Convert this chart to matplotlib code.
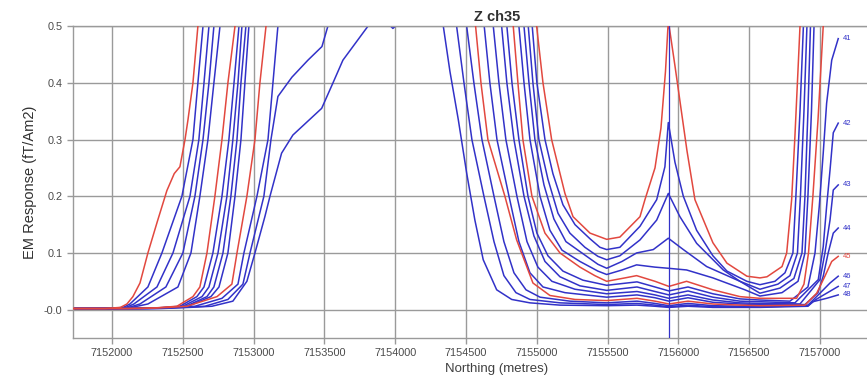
import matplotlib.pyplot as plt

plt.rcParams['font.family'] = ['Liberation Sans', 'DejaVu Sans']

# channel profiles: (northing, response)
ch35 = [(7151725, 0.002), (7151950, 0.002), (7152060, 0.004), (7152106, 0.01), (7152148, 0.023), (7152198, 0.047),
        (7152254, 0.10), (7152320, 0.155), (7152388, 0.21), (7152440, 0.24), (7152480, 0.252), (7152516, 0.30),
        (7152537, 0.335), (7152572, 0.40), (7152607, 0.50), (7152640, 0.65),
        (7154980, 0.65), (7154999, 0.50), (7155044, 0.40), (7155105, 0.30), (7155199, 0.205), (7155256, 0.164),
        (7155376, 0.135), (7155494, 0.124), (7155587, 0.128), (7155729, 0.164), (7155764, 0.194), (7155835, 0.25),
        (7155877, 0.32), (7155909, 0.42), (7155929, 0.51), (7155976, 0.43), (7156061, 0.28), (7156117, 0.194),
        (7156244, 0.118), (7156343, 0.082), (7156484, 0.059), (7156576, 0.056), (7156626, 0.058), (7156732, 0.076),
        (7156765, 0.10), (7156800, 0.194), (7156823, 0.305), (7156845, 0.423), (7156859, 0.50), (7156880, 0.65)]
ch36 = [(7151725, 0.002), (7151980, 0.002), (7152080, 0.004), (7152127, 0.01), (7152254, 0.04), (7152353, 0.10),
        (7152494, 0.20), (7152572, 0.30), (7152607, 0.40), (7152643, 0.50), (7152680, 0.65),
        (7154950, 0.65), (7154968, 0.50), (7155001, 0.40), (7155058, 0.30), (7155114, 0.24), (7155185, 0.185),
        (7155270, 0.15), (7155376, 0.125), (7155446, 0.11), (7155494, 0.106), (7155587, 0.11), (7155729, 0.147),
        (7155847, 0.194), (7155905, 0.252), (7155929, 0.33), (7155976, 0.26), (7156035, 0.20), (7156129, 0.14),
        (7156244, 0.095), (7156343, 0.068), (7156484, 0.05), (7156576, 0.044), (7156682, 0.05), (7156753, 0.065),
        (7156809, 0.10), (7156830, 0.20), (7156859, 0.35), (7156883, 0.50), (7156900, 0.65)]
ch37 = [(7151725, 0.002), (7152000, 0.002), (7152100, 0.004), (7152155, 0.01), (7152318, 0.04), (7152431, 0.10),
        (7152551, 0.20), (7152614, 0.30), (7152650, 0.40), (7152685, 0.50), (7152720, 0.65),
        (7154920, 0.65), (7154940, 0.50), (7154973, 0.40), (7155015, 0.30), (7155079, 0.23), (7155150, 0.17),
        (7155234, 0.135), (7155340, 0.11), (7155432, 0.094), (7155494, 0.088), (7155587, 0.095), (7155729, 0.123),
        (7155847, 0.158), (7155929, 0.205), (7156011, 0.164), (7156129, 0.117), (7156317, 0.07), (7156435, 0.05),
        (7156576, 0.036), (7156703, 0.045), (7156788, 0.06), (7156841, 0.10), (7156862, 0.20), (7156887, 0.35),
        (7156908, 0.50), (7156925, 0.65)]
ch38 = [(7151725, 0.002), (7152020, 0.002), (7152120, 0.004), (7152198, 0.01), (7152381, 0.04), (7152501, 0.10),
        (7152586, 0.20), (7152643, 0.30), (7152685, 0.40), (7152720, 0.50), (7152755, 0.65),
        (7154890, 0.65), (7154910, 0.50), (7154945, 0.40), (7154987, 0.30), (7155051, 0.22), (7155121, 0.16),
        (7155206, 0.12), (7155319, 0.10), (7155432, 0.08), (7155494, 0.073), (7155602, 0.085), (7155705, 0.10),
        (7155823, 0.106), (7155929, 0.126), (7156035, 0.106), (7156200, 0.076), (7156435, 0.05), (7156576, 0.029),
        (7156717, 0.038), (7156816, 0.055), (7156873, 0.10), (7156894, 0.20), (7156915, 0.35), (7156933, 0.50),
        (7156950, 0.65)]
ch39 = [(7151725, 0.002), (7152040, 0.002), (7152140, 0.004), (7152254, 0.01), (7152466, 0.04), (7152558, 0.10),
        (7152621, 0.20), (7152678, 0.30), (7152720, 0.40), (7152763, 0.50), (7152800, 0.65),
        (7154850, 0.65), (7154874, 0.50), (7154910, 0.40), (7154952, 0.30), (7155023, 0.20), (7155093, 0.14),
        (7155178, 0.105), (7155305, 0.085), (7155432, 0.068), (7155494, 0.062), (7155602, 0.07), (7155705, 0.079),
        (7155835, 0.075), (7155929, 0.073), (7156058, 0.07), (7156244, 0.056), (7156470, 0.035), (7156576, 0.024),
        (7156732, 0.03), (7156845, 0.05), (7156894, 0.10), (7156915, 0.20), (7156940, 0.35), (7156958, 0.50),
        (7156975, 0.65)]
ch40 = [(7151725, 0.002), (7152100, 0.002), (7152300, 0.003), (7152459, 0.006), (7152572, 0.023), (7152621, 0.04),
        (7152671, 0.10), (7152727, 0.20), (7152777, 0.30), (7152819, 0.40), (7152869, 0.50), (7152900, 0.65),
        (7154810, 0.65), (7154834, 0.50), (7154867, 0.40), (7154902, 0.30), (7154966, 0.20), (7155058, 0.135),
        (7155164, 0.10), (7155305, 0.075), (7155410, 0.06), (7155494, 0.05), (7155623, 0.056), (7155705, 0.06),
        (7155835, 0.05), (7155933, 0.041), (7156058, 0.05), (7156244, 0.035), (7156435, 0.023), (7156576, 0.02),
        (7156835, 0.02), (7156887, 0.045), (7156919, 0.10), (7156950, 0.20), (7156986, 0.334), (7157023, 0.50),
        (7157035, 0.65)]
ch41 = [(7151725, 0.002), (7152120, 0.002), (7152320, 0.003), (7152480, 0.006), (7152600, 0.023), (7152650, 0.04),
        (7152713, 0.10), (7152777, 0.20), (7152826, 0.30), (7152862, 0.40), (7152897, 0.50), (7152930, 0.65),
        (7154765, 0.65), (7154789, 0.50), (7154825, 0.40), (7154874, 0.30), (7154938, 0.20), (7155001, 0.135),
        (7155079, 0.095), (7155185, 0.068), (7155326, 0.052), (7155494, 0.043), (7155708, 0.049), (7155835, 0.04),
        (7155933, 0.033), (7156068, 0.04), (7156244, 0.028), (7156435, 0.019), (7156576, 0.017), (7156788, 0.015),
        (7156915, 0.04), (7156965, 0.10), (7156995, 0.182), (7157023, 0.276), (7157047, 0.364), (7157083, 0.44),
        (7157129, 0.478)]
ch42 = [(7151725, 0.002), (7152140, 0.002), (7152340, 0.003), (7152501, 0.006), (7152636, 0.023), (7152685, 0.04),
        (7152749, 0.10), (7152812, 0.20), (7152854, 0.30), (7152890, 0.40), (7152918, 0.50), (7152950, 0.65),
        (7154730, 0.65), (7154752, 0.50), (7154789, 0.40), (7154839, 0.30), (7154910, 0.20), (7154980, 0.13),
        (7155058, 0.085), (7155164, 0.058), (7155305, 0.042), (7155494, 0.034), (7155708, 0.04), (7155835, 0.032),
        (7155933, 0.026), (7156068, 0.033), (7156244, 0.022), (7156435, 0.015), (7156576, 0.014), (7156823, 0.012),
        (7156988, 0.053), (7157023, 0.111), (7157047, 0.182), (7157071, 0.246), (7157094, 0.312), (7157129, 0.329)]
ch43 = [(7151725, 0.002), (7152160, 0.002), (7152360, 0.003), (7152523, 0.006), (7152671, 0.023), (7152720, 0.04),
        (7152784, 0.10), (7152840, 0.20), (7152883, 0.30), (7152911, 0.40), (7152946, 0.50), (7152980, 0.65),
        (7154670, 0.65), (7154693, 0.50), (7154733, 0.40), (7154782, 0.30), (7154860, 0.20), (7154931, 0.12),
        (7155008, 0.075), (7155107, 0.05), (7155270, 0.036), (7155494, 0.028), (7155708, 0.032), (7155835, 0.026),
        (7155933, 0.02), (7156068, 0.026), (7156244, 0.017), (7156435, 0.012), (7156576, 0.011), (7156859, 0.01),
        (7157000, 0.053), (7157035, 0.10), (7157071, 0.158), (7157094, 0.211), (7157129, 0.22)]
ch44 = [(7151725, 0.002), (7152180, 0.002), (7152380, 0.003), (7152537, 0.006), (7152699, 0.023), (7152756, 0.04),
        (7152819, 0.10), (7152869, 0.20), (7152911, 0.30), (7152939, 0.40), (7152967, 0.50), (7153000, 0.65),
        (7154605, 0.65), (7154629, 0.50), (7154669, 0.40), (7154719, 0.30), (7154804, 0.20), (7154874, 0.12),
        (7154952, 0.065), (7155044, 0.04), (7155199, 0.03), (7155494, 0.022), (7155708, 0.026), (7155835, 0.021),
        (7155933, 0.015), (7156068, 0.021), (7156244, 0.013), (7156435, 0.01), (7156576, 0.009), (7156894, 0.009),
        (7156986, 0.03), (7157023, 0.059), (7157058, 0.10), (7157094, 0.135), (7157129, 0.144)]
ch45 = [(7151725, 0.002), (7152200, 0.002), (7152400, 0.004), (7152530, 0.006), (7152742, 0.023), (7152847, 0.045),
        (7152883, 0.10), (7152953, 0.20), (7153010, 0.30), (7153045, 0.40), (7153088, 0.50), (7153120, 0.65),
        (7154545, 0.65), (7154568, 0.50), (7154606, 0.40), (7154655, 0.30), (7154775, 0.20), (7154858, 0.123),
        (7154973, 0.047), (7155093, 0.025), (7155270, 0.018), (7155494, 0.016), (7155708, 0.02), (7155835, 0.015),
        (7155933, 0.01), (7156068, 0.015), (7156244, 0.01), (7156435, 0.008), (7156576, 0.007), (7156894, 0.008),
        (7156977, 0.029), (7157035, 0.059), (7157083, 0.085), (7157129, 0.094)]
ch46 = [(7151725, 0.002), (7152250, 0.002), (7152450, 0.004), (7152586, 0.006), (7152777, 0.02), (7152890, 0.045),
        (7152932, 0.10), (7153024, 0.20), (7153102, 0.30), (7153137, 0.40), (7153172, 0.50), (7153200, 0.65),
        (7154480, 0.65), (7154505, 0.50), (7154556, 0.40), (7154613, 0.30), (7154698, 0.20), (7154768, 0.12),
        (7154839, 0.065), (7154924, 0.035), (7155023, 0.022), (7155234, 0.015), (7155494, 0.012), (7155708, 0.015),
        (7155835, 0.011), (7155933, 0.007), (7156068, 0.011), (7156244, 0.007), (7156435, 0.006), (7156576, 0.006),
        (7156915, 0.008), (7157000, 0.029), (7157071, 0.047), (7157129, 0.059)]
ch47 = [(7151725, 0.002), (7152300, 0.002), (7152500, 0.004), (7152657, 0.006), (7152819, 0.018), (7152925, 0.045),
        (7152975, 0.10), (7153073, 0.20), (7153123, 0.30), (7153172, 0.376), (7153271, 0.41), (7153384, 0.44),
        (7153483, 0.464), (7153525, 0.50), (7153560, 0.65),
        (7154410, 0.65), (7154434, 0.50), (7154486, 0.40), (7154542, 0.30), (7154627, 0.20), (7154698, 0.12),
        (7154768, 0.06), (7154853, 0.03), (7154952, 0.018), (7155164, 0.012), (7155494, 0.009), (7155708, 0.011),
        (7155835, 0.008), (7155933, 0.005), (7156068, 0.008), (7156244, 0.005), (7156435, 0.005), (7156576, 0.005),
        (7156915, 0.007), (7156972, 0.018), (7157047, 0.029), (7157129, 0.041)]
ch48 = [(7151725, 0.002), (7152350, 0.002), (7152550, 0.004), (7152706, 0.006), (7152854, 0.015), (7152953, 0.05),
        (7153010, 0.10), (7153080, 0.164), (7153116, 0.20), (7153198, 0.276), (7153278, 0.308), (7153481, 0.355),
        (7153561, 0.40), (7153631, 0.44), (7153808, 0.50), (7153900, 0.515), (7153960, 0.502), (7153984, 0.496),
        (7154010, 0.502), (7154060, 0.53), (7154150, 0.65),
        (7154316, 0.65), (7154340, 0.50), (7154387, 0.42), (7154446, 0.335), (7154505, 0.241), (7154563, 0.158),
        (7154622, 0.088), (7154717, 0.035), (7154823, 0.018), (7154952, 0.012), (7155164, 0.008), (7155494, 0.007),
        (7155708, 0.008), (7155835, 0.006), (7155933, 0.004), (7156068, 0.006), (7156244, 0.004), (7156435, 0.004),
        (7156576, 0.004), (7156915, 0.006), (7156950, 0.014), (7157047, 0.02), (7157129, 0.026)]

channels = [35, 36, 37, 38, 39, 40, 41, 42, 43, 44, 45, 46, 47, 48]
profiles = [ch35, ch36, ch37, ch38, ch39, ch40, ch41, ch42, ch43, ch44, ch45, ch46, ch47, ch48]
red_channels = [35, 40, 45]
labelled = [41, 42, 43, 44, 45, 46, 47, 48]

marker_northing = 7155935
x_ticks = [7152000, 7152500, 7153000, 7153500, 7154000, 7154500, 7155000, 7155500, 7156000, 7156500, 7157000]
y_ticks = [0.0, 0.1, 0.2, 0.3, 0.4, 0.5]
y_tick_labels = ['-0.0', '0.1', '0.2', '0.3', '0.4', '0.5']

blue = '#3232c8'
red = '#e2483f'
grey = '#9a9a9a'

fig = plt.figure(figsize=(8.67, 3.78), dpi=100)
# plot area runs past the right edge of the picture (cropped original)
ax = fig.add_axes([0.0842, 0.1058, 0.978, 0.825])

for ch, prof in zip(channels, profiles):
    xs = [p[0] for p in prof]
    ys = [p[1] for p in prof]
    col = red if ch in red_channels else blue
    ax.plot(xs, ys, color=col, lw=1.1, zorder=3 if ch in red_channels else 2)
    if ch in labelled:
        ax.annotate(str(ch), (xs[-1], ys[-1]), xytext=(3, 0), textcoords='offset points',
                    fontsize=5.5, color=col, va='center', ha='left')

ax.axvline(marker_northing, color=blue, lw=0.9, zorder=4)

ax.set_xlim(7151725, 7157713)
ax.set_ylim(-0.05, 0.5)
ax.set_xticks(x_ticks)
ax.set_xticklabels([str(t) for t in x_ticks])
ax.set_yticks(y_ticks)
ax.set_yticklabels(y_tick_labels)

ax.grid(True, color=grey, lw=1.0, zorder=0)
ax.set_axisbelow(True)
for s in ax.spines.values():
    s.set_color(grey)
    s.set_linewidth(1.0)
ax.tick_params(colors=grey, labelcolor='#4a4a4a', length=4, width=1.0, labelsize=7.8)

ax.set_title('Z ch35', fontsize=10.5, fontweight='bold', color='#303030', pad=4)
ax.set_xlabel('Northing (metres)', fontsize=9.5, color='#404040')
ax.set_ylabel('EM Response (fT/Am2)', fontsize=10.5, color='#303030')
ax.xaxis.set_label_coords(0.5, -0.08)
ax.yaxis.set_label_coords(-0.043, 0.5)

fig.savefig('out.png', dpi=100)
